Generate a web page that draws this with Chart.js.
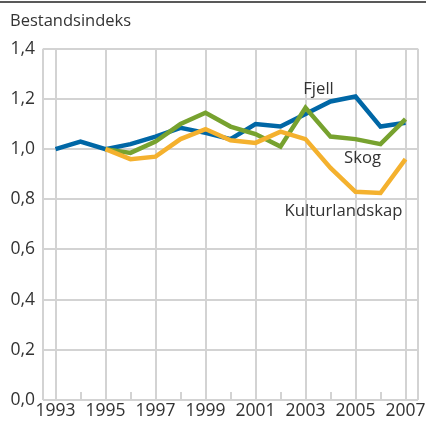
<!DOCTYPE html>
<html>
<head>
<meta charset="utf-8">
<script src="https://cdn.jsdelivr.net/npm/chart.js@4"></script>
<style>
  html, body { margin: 0; padding: 0; background: #fff; }
  #wrap { width: 426px; height: 427px; position: relative; }
</style>
</head>
<body>
<div id="wrap"><canvas id="c" width="426" height="427"></canvas></div>
<script>
const years = [1993,1994,1995,1996,1997,1998,1999,2000,2001,2002,2003,2004,2005,2006,2007];
const fjell = [1.00,1.03,1.00,1.02,1.05,1.085,1.065,1.04,1.10,1.09,1.14,1.19,1.21,1.09,1.105];
const skog = [null,null,1.00,0.985,1.03,1.10,1.145,1.09,1.06,1.01,1.165,1.05,1.04,1.02,1.12];
const kulturlandskap = [null,null,1.00,0.96,0.97,1.04,1.08,1.035,1.025,1.07,1.04,0.925,0.83,0.825,0.96];
const yTicks = [0,0.2,0.4,0.6,0.8,1.0,1.2,1.4];
const yLabels = ['0,0','0,2','0,4','0,6','0,8','1,0','1,2','1,4'];
const xLabelYears = [1993,1995,1997,1999,2001,2003,2005,2007];

const FONT = "'Open Sans', sans-serif";
const TXT = '#333333';
const GRID = '#d3d3d3';

const toPts = arr => years.map((y, i) => ({x: y, y: arr[i]})).filter(p => p.y !== null);

const topLine = {
  id: 'topLine',
  afterDraw(chart) {
    const ctx = chart.ctx;
    ctx.save();
    ctx.strokeStyle = '#222';
    ctx.lineWidth = 1.5;
    ctx.beginPath();
    ctx.moveTo(0, 2);
    ctx.lineTo(chart.width, 2);
    ctx.stroke();
    ctx.restore();
  }
};

const evenTicks = {
  id: 'evenTicks',
  beforeDatasetsDraw(chart) {
    const xs = chart.scales.x, ys = chart.scales.y;
    const ctx = chart.ctx;
    const yb = ys.getPixelForValue(0);
    ctx.save();
    ctx.strokeStyle = GRID;
    ctx.lineWidth = 2;
    years.filter(y => y % 2 === 0).forEach(y => {
      const px = Math.round(xs.getPixelForValue(y));
      ctx.beginPath();
      ctx.moveTo(px, yb);
      ctx.lineTo(px, yb - 8);
      ctx.stroke();
    });
    ctx.restore();
  }
};

const seriesLabels = {
  id: 'seriesLabels',
  afterDatasetsDraw(chart, args, opts) {
    const xs = chart.scales.x, ys = chart.scales.y;
    const ctx = chart.ctx;
    ctx.save();
    ctx.font = '16.7px ' + FONT;
    ctx.fillStyle = TXT;
    ctx.textAlign = 'center';
    ctx.textBaseline = 'middle';
    opts.items.forEach(it => {
      ctx.fillText(it.text, xs.getPixelForValue(it.x), ys.getPixelForValue(it.y));
    });
    ctx.restore();
  }
};

new Chart(document.getElementById('c'), {
  type: 'line',
  data: {
    datasets: [
      { label: 'Kulturlandskap', data: toPts(kulturlandskap), borderColor: '#f4b12e', borderWidth: 4.5, pointRadius: 0, tension: 0, fill: false },
      { label: 'Skog', data: toPts(skog), borderColor: '#77a22f', borderWidth: 4.5, pointRadius: 0, tension: 0, fill: false },
      { label: 'Fjell', data: toPts(fjell), borderColor: '#0067a6', borderWidth: 4.5, pointRadius: 0, tension: 0, fill: false }
    ]
  },
  options: {
    responsive: false,
    animation: false,
    layout: { padding: { left: 10, right: 8, top: 0, bottom: 0 } },
    plugins: {
      legend: { display: false },
      tooltip: { enabled: false },
      title: {
        display: true,
        text: 'Bestandsindeks',
        align: 'start',
        color: TXT,
        font: { family: FONT, size: 16.5, weight: 'normal' },
        padding: { top: 11, bottom: 18 }
      },
      seriesLabels: {
        items: [
          { text: 'Fjell', x: 2003.52, y: 1.24 },
          { text: 'Skog', x: 2005.28, y: 0.965 },
          { text: 'Kulturlandskap', x: 2004.52, y: 0.752 }
        ]
      }
    },
    scales: {
      x: {
        type: 'linear',
        min: 1992.5,
        max: 2007.5,
        afterBuildTicks(scale) {
          const t = [{value: 1992.5}];
          years.forEach(y => t.push({value: y}));
          t.push({value: 2007.5});
          scale.ticks = t;
        },
        afterFit(scale) { scale.height = 27; },
        ticks: {
          autoSkip: false,
          maxRotation: 0,
          padding: 1,
          color: TXT,
          font: { family: FONT, size: 17.5 },
          callback: v => xLabelYears.includes(v) ? String(v) : ''
        },
        grid: {
          drawTicks: false,
          lineWidth: 2,
          color: ctx => {
            const v = ctx.tick ? ctx.tick.value : null;
            if (v === 1992.5 || v === 2007.5) return GRID;
            return (Number.isInteger(v) && v % 2 === 1) ? GRID : 'rgba(0,0,0,0)';
          }
        },
        border: { display: false }
      },
      y: {
        min: 0,
        max: 1.4,
        afterBuildTicks(scale) { scale.ticks = yTicks.map(v => ({value: v})); },
        afterFit(scale) { scale.width = 33; },
        ticks: {
          padding: 8,
          color: TXT,
          font: { family: FONT, size: 17.5 },
          callback: (v) => { const i = yTicks.findIndex(t => Math.abs(t - v) < 1e-6); return i >= 0 ? yLabels[i] : ''; }
        },
        grid: { drawTicks: false, lineWidth: 2, color: GRID },
        border: { display: false }
      }
    }
  },
  plugins: [topLine, evenTicks, seriesLabels]
});
</script>
</body>
</html>
